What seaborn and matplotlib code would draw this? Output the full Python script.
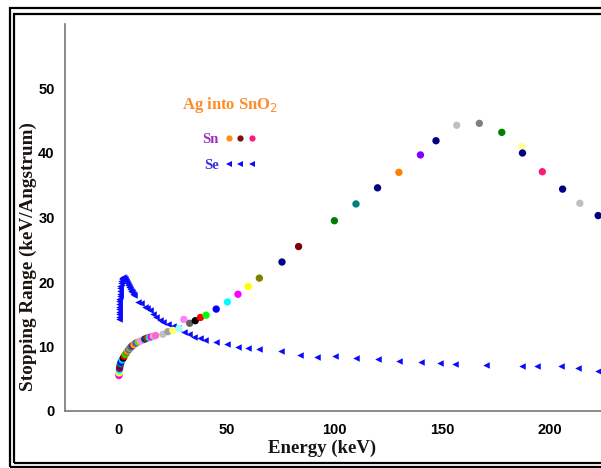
import matplotlib
matplotlib.use("Agg")
import matplotlib.pyplot as plt
from matplotlib.lines import Line2D
from matplotlib.legend_handler import HandlerTuple
from matplotlib.patches import Rectangle
import seaborn as sns
import pandas as pd

# ---------------- data ----------------
sn_energy = [0.0, 0.1, 0.2, 0.3, 0.5, 0.7, 1.0, 1.5, 2.0, 2.5, 3.0, 3.5, 4.0, 4.5, 5.0,
             5.5, 6.0, 6.5, 7.0, 7.5, 8.0, 9.0, 10.0, 11.0, 12.0, 13.0, 14.0, 15.0, 16.0, 17.0,
             20.4, 22.7, 25.0, 27.8, 30.1, 32.8, 35.4, 37.8, 40.4, 45.1, 50.3, 55.2, 60.0,
             65.1, 75.6, 83.3, 99.9, 109.9, 119.9, 129.8, 139.8, 147.0, 156.6, 167.1,
             177.5, 186.8, 187.1, 196.3, 205.7, 213.7, 222.2]
sn_range = [5.5, 5.9, 6.3, 6.6, 7.0, 7.3, 7.6, 7.9, 8.2, 8.5, 8.8, 9.0, 9.3, 9.5, 9.7,
            9.9, 10.05, 10.2, 10.3, 10.45, 10.55, 10.7, 10.85, 11.0, 11.15, 11.3, 11.4, 11.5, 11.6, 11.7,
            11.9, 12.3, 12.5, 12.8, 14.2, 13.6, 14.0, 14.5, 14.85, 15.8, 16.9, 18.1, 19.3,
            20.6, 23.1, 25.5, 29.5, 32.1, 34.6, 37.0, 39.7, 41.9, 44.3, 44.6,
            43.2, 41.0, 40.0, 37.1, 34.4, 32.2, 30.3]

se_energy = [0.0, 0.02, 0.05, 0.08, 0.1, 0.13, 0.16, 0.2, 0.25, 0.3, 0.35, 0.4, 0.5, 0.6,
             0.8, 1.0, 1.3, 1.6, 2.0, 2.4, 2.8, 3.2, 3.6, 4.0, 4.5, 5.0, 5.5, 6.0, 6.5, 7.0,
             9.0, 10.4, 11.9, 13.0, 14.2, 15.8, 17.3, 18.9, 20.4, 22.7, 25.0, 27.5, 30.0,
             32.5, 35.0, 37.5, 40.0, 45.0, 50.0, 55.0, 60.0, 65.0, 75.0, 84.0, 92.0, 100.0,
             110.0, 120.0, 130.0, 140.0, 149.0, 156.0, 170.0, 187.0, 194.0, 205.0, 213.0, 222.0]
se_range = [14.2, 14.6, 15.0, 15.4, 15.8, 16.2, 16.6, 17.0, 17.4, 17.8, 18.2, 18.6, 19.0, 19.4,
            19.8, 20.1, 20.4, 20.6, 20.7, 20.6, 20.4, 20.1, 19.8, 19.5, 19.2, 18.9, 18.6, 18.4, 18.2, 18.0,
            16.9, 16.7, 16.1, 15.9, 15.6, 15.1, 14.6, 14.1, 13.8, 13.45, 13.2, 12.8, 12.3,
            11.9, 11.55, 11.25, 11.05, 10.7, 10.35, 10.0, 9.8, 9.6, 9.35, 8.7, 8.3, 8.5,
            8.2, 8.0, 7.8, 7.6, 7.4, 7.3, 7.2, 7.0, 7.0, 7.0, 6.7, 6.2]

x_ticks = [-25, 0, 25, 50, 75, 100, 125, 150, 175, 200]
x_ticklabels = ["", "0", "", "50", "", "100", "", "150", "", "200"]
y_ticks = [0, 5, 10, 15, 20, 25, 30, 35, 40, 45, 50, 55, 60]
y_ticklabels = ["0", "", "10", "", "20", "", "30", "", "40", "", "50", "", ""]

# point colours for the Sn series (Excel-like palette)
dense_cycle = ["#ff00ff", "#ffff00", "#00ffff", "#800080", "#800000", "#008080",
               "#0000ff", "#00ccff", "#000000", "#ff0000", "#00ff00", "#808000",
               "#ff9900", "#666699", "#969696", "#339966", "#993366", "#333399",
               "#ffcc00", "#ff6600", "#3366ff", "#99cc00", "#ff99cc", "#cc99ff",
               "#003366", "#993300", "#33cccc", "#ff00ff", "#c0c0c0", "#ff66cc"]
sparse_colors = ["#c0c0c0", "#a0a0a0", "#ffff66", "#99ffff", "#ff80ff", "#606060",
                 "#000000", "#ff0000", "#00ff00", "#0000ff", "#00ffff", "#ff00ff",
                 "#ffff00", "#808000", "#000080", "#800000", "#008000", "#008080",
                 "#000080", "#ff8000", "#8000ff", "#000080", "#c0c0c0", "#808080",
                 "#008000", "#ffff99", "#000080", "#ff1a75", "#000080", "#c0c0c0", "#000080"]
sn_colors = dense_cycle + sparse_colors

sn_df = pd.DataFrame({"Energy": sn_energy, "Range": sn_range,
                      "idx": [str(i) for i in range(len(sn_energy))]})
se_df = pd.DataFrame({"Energy": se_energy, "Range": se_range})

# ---------------- figure ----------------
sns.set_style("white")
plt.rcParams["font.family"] = ["Liberation Sans", "DejaVu Sans"]

fig = plt.figure(figsize=(6.01, 4.68), dpi=100)
ax = fig.add_axes([65 / 601, 57 / 468, 1 - 65 / 601, 387 / 468])

sns.scatterplot(data=se_df, x="Energy", y="Range", marker="<", color="#0a0aff",
                s=22, linewidth=0, ax=ax, legend=False, zorder=3)
sns.scatterplot(data=sn_df, x="Energy", y="Range", hue="idx", palette=sn_colors,
                s=28, linewidth=0, ax=ax, legend=False, zorder=4)

ax.set_xlim(-25, 223.5)
ax.set_ylim(0, 60)
ax.set_xticks(x_ticks)
ax.set_xticklabels(x_ticklabels)
ax.set_yticks(y_ticks)
ax.set_yticklabels(y_ticklabels)

for s in ["top", "right"]:
    ax.spines[s].set_visible(False)
for s in ["left", "bottom"]:
    ax.spines[s].set_color("#777777")
    ax.spines[s].set_linewidth(1.2)

ax.tick_params(axis="both", direction="out", length=5.5, width=1.0, color="#777777",
               labelsize=10.5, labelcolor="black", pad=3)
ax.tick_params(axis="y", pad=2)
for lab in ax.get_xticklabels() + ax.get_yticklabels():
    lab.set_fontweight("bold")

label_font = dict(family=["Liberation Serif", "DejaVu Serif"], weight="bold",
                  size=13.5, color="#1a1410")
ax.set_xlabel("Energy (keV)", **label_font)
ax.set_ylabel("Stopping Range (keV/Angstrum)", **{**label_font, "size": 13.8})
ax.xaxis.set_label_coords(0.479, -0.073)
ax.yaxis.set_label_coords(-0.053, 0.40)

# legend
sn_h = tuple(Line2D([], [], ls="none", marker="o", ms=4.5, mew=0, color=c)
             for c in ["#ff8c1a", "#7a1010", "#ff1a75"])
se_h = tuple(Line2D([], [], ls="none", marker="<", ms=4.5, mew=0, color="#0a0aff")
             for _ in range(3))
leg = ax.legend([sn_h, se_h], ["Sn", "Se"],
                handler_map={tuple: HandlerTuple(ndivide=None, pad=0.0)},
                markerfirst=False, frameon=False, loc="center",
                bbox_to_anchor=(0.308, 0.717), handlelength=2.4, handletextpad=0.3,
                labelspacing=0.9, title="Ag into SnO$_2$",
                prop=dict(family=["Liberation Serif", "DejaVu Serif"], weight="bold", size=10.5))
leg.get_title().set_fontproperties(dict(family=["Liberation Serif", "DejaVu Serif"],
                                        weight="bold", size=12))
leg.get_title().set_color("#ff8c2a")
leg._legend_box.sep = 13
for t, c in zip(leg.get_texts(), ["#9933bb", "#3333dd"]):
    t.set_color(c)

# double frame around the picture
fig.add_artist(Rectangle((10.5 / 601, 1.5 / 468), 1.2, (466.5 - 8) / 468,
                         transform=fig.transFigure, fill=False, lw=1.6, ec="black"))
fig.add_artist(Rectangle((14.2 / 601, 5 / 468), 1.2, (463 - 13.5) / 468,
                         transform=fig.transFigure, fill=False, lw=1.6, ec="black"))

fig.savefig("out.png", dpi=100)
